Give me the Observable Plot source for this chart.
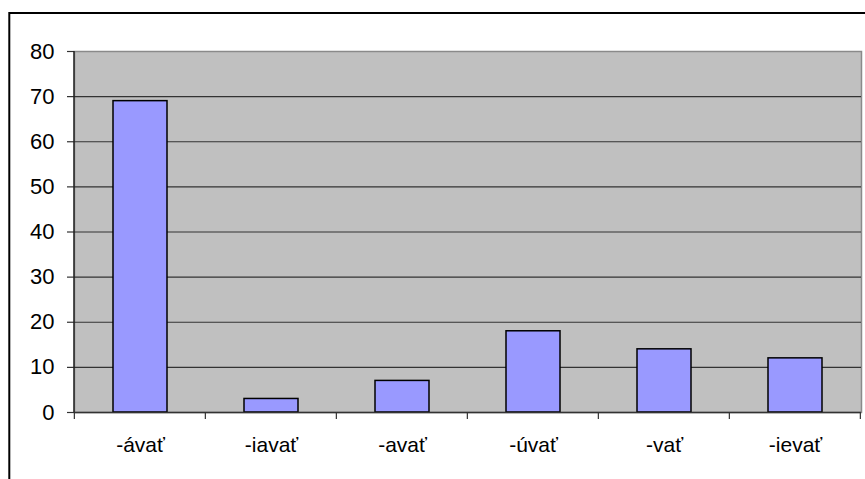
<!DOCTYPE html>
<html>
<head>
<meta charset="utf-8">
<script src="https://cdn.jsdelivr.net/npm/d3@7"></script>
<script src="https://cdn.jsdelivr.net/npm/@observablehq/plot@0.6"></script>
<style>
  html, body { margin: 0; padding: 0; background: #fff; }
  #chart svg { display: block; }
</style>
</head>
<body>
<div id="chart"></div>
<script>
const categories = ["-ávať", "-iavať", "-avať", "-úvať", "-vať", "-ievať"];
const values = [69, 3, 7, 18, 14, 12];
const yTicks = [0, 10, 20, 30, 40, 50, 60, 70, 80];
const gridTicks = [10, 20, 30, 40, 50, 60, 70];

const data = categories.map((c, i) => ({category: c, value: values[i]}));

const padInner = 0.59;

// ticks on the category axis placed at band boundaries
function boundaryTicks(index, scales, values, dimensions) {
  const x = scales.x, y = scales.y;
  const step = x(categories[1]) - x(categories[0]);
  const y0 = y(0);
  const g = d3.create("svg:g").attr("stroke", "#333").attr("stroke-width", 1.2);
  const xs = categories.map(c => x(c) - step * padInner / 2);
  xs.push(xs[xs.length - 1] + step);
  for (const xv of xs) {
    g.append("line").attr("x1", xv).attr("x2", xv).attr("y1", y0).attr("y2", y0 + 7);
  }
  return g.node();
}

const plot = Plot.plot({
  width: 865,
  height: 479,
  marginLeft: 74,
  marginRight: 4,
  marginTop: 51,
  marginBottom: 67,
  style: {fontFamily: "'Liberation Sans', Arial, sans-serif", fontSize: "22px", color: "#000", background: "#fff"},
  x: {domain: categories, paddingInner: padInner, paddingOuter: padInner / 2, label: null},
  y: {domain: [0, 80], label: null},
  marks: [
    Plot.frame({fill: "#C0C0C0", stroke: "#8a8a8a", strokeWidth: 1.5}),
    Plot.ruleY(gridTicks, {stroke: "#333", strokeWidth: 1.2}),
    Plot.barY(data, {x: "category", y: "value", fill: "#9999FF", stroke: "#000", strokeWidth: 1.5}),
    Plot.ruleY([0], {stroke: "#333", strokeWidth: 1.5}),
    Plot.axisY({ticks: yTicks, tickSize: 7, tickPadding: 13, tickFormat: d => String(d), fontSize: 22, stroke: "#333", strokeWidth: 1.2}),
    Plot.axisX({tickSize: 0, tickPadding: 25, fontSize: 21}),
    boundaryTicks
  ]
});

// left axis line and outer chart border
const svg = d3.select(plot);
svg.append("line")
  .attr("x1", 74).attr("x2", 74).attr("y1", 51).attr("y2", 412)
  .attr("stroke", "#222").attr("stroke-width", 1.5);
svg.append("rect")
  .attr("x", 9.3).attr("y", 13).attr("width", 880).attr("height", 490)
  .attr("fill", "none").attr("stroke", "#000").attr("stroke-width", 2);

document.getElementById("chart").appendChild(plot);
</script>
</body>
</html>
